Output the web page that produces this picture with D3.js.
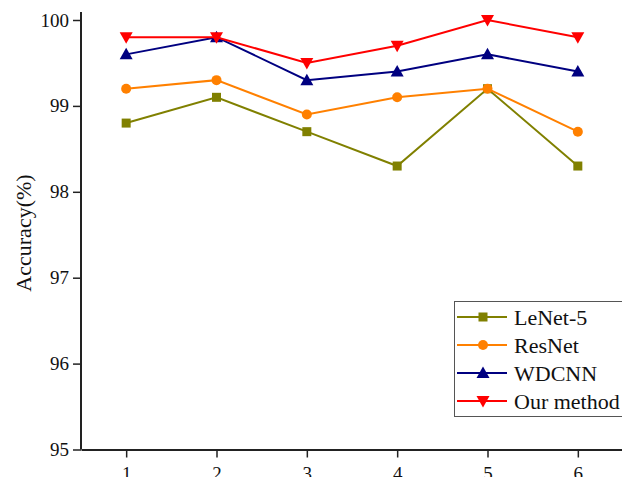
<!DOCTYPE html>
<html>
<head>
<meta charset="utf-8">
<script src="https://cdn.jsdelivr.net/npm/d3@7"></script>
<style>
  body { margin: 0; background: #fff; }
  svg { display: block; font-family: "Liberation Serif", "Times New Roman", serif; }
</style>
</head>
<body>
<div id="chart"></div>
<script>
const epochs = [1, 2, 3, 4, 5, 6];
const lenet = [98.8, 99.1, 98.7, 98.3, 99.2, 98.3];
const resnet = [99.2, 99.3, 98.9, 99.1, 99.2, 98.7];
const wdcnn = [99.6, 99.8, 99.3, 99.4, 99.6, 99.4];
const ourMethod = [99.8, 99.8, 99.5, 99.7, 100.0, 99.8];
const seriesNames = ["LeNet-5", "ResNet", "WDCNN", "Our method"];
const yTicks = [95, 96, 97, 98, 99, 100];

const series = [
    { name: seriesNames[0], values: lenet, color: "#808000", symbol: "square" },
    { name: seriesNames[1], values: resnet, color: "#ff8000", symbol: "circle" },
    { name: seriesNames[2], values: wdcnn, color: "#000080", symbol: "up" },
    { name: seriesNames[3], values: ourMethod, color: "#ff0000", symbol: "down" }
];

const width = 622, height = 477;
const margin = { top: 20, right: 0, bottom: 27, left: 81 };

const svg = d3.select("#chart").append("svg")
    .attr("width", width)
    .attr("height", height);

const xScale = d3.scaleLinear().domain([0.5, 6.5]).range([margin.left, 623]);
const yScale = d3.scaleLinear().domain([95, 100]).range([height - margin.bottom - 0.5, margin.top]);

// draws a marker centred on 0,0
function drawMarker(g, symbol, color) {
    if (symbol === "square") {
        g.append("rect").attr("x", -4.5).attr("y", -4.5).attr("width", 9).attr("height", 9).attr("fill", color);
    } else if (symbol === "circle") {
        g.append("circle").attr("r", 5).attr("fill", color);
    } else if (symbol === "up") {
        g.append("path").attr("d", "M0,-6.5L6.5,5L-6.5,5Z").attr("fill", color);
    } else {
        g.append("path").attr("d", "M0,6.5L6.5,-5L-6.5,-5Z").attr("fill", color);
    }
}

// axes
const xAxisG = svg.append("g")
    .attr("transform", "translate(0," + yScale(95) + ")")
    .call(d3.axisBottom(xScale).tickValues(epochs).tickFormat(d3.format("d"))
        .tickSize(8).tickSizeOuter(0).tickPadding(9));

const yAxisG = svg.append("g")
    .attr("transform", "translate(" + margin.left + ",0)")
    .call(d3.axisLeft(yScale).tickValues(yTicks).tickFormat(d3.format("d"))
        .tickSize(8).tickSizeOuter(0).tickPadding(4));

[xAxisG, yAxisG].forEach(g => {
    g.attr("font-family", null).attr("font-size", null);
    g.select(".domain").attr("stroke", "#222").attr("stroke-width", 2);
    g.selectAll(".tick line").attr("stroke", "#222").attr("stroke-width", 1.5);
    g.selectAll(".tick text").attr("fill", "#111").style("font-size", "19px");
});
yAxisG.select(".domain").attr("d", "M0," + yScale(95) + "V" + (margin.top - 8));

svg.append("text")
    .attr("transform", "rotate(-90)")
    .attr("x", -233)
    .attr("y", 31)
    .attr("fill", "#111")
    .style("font-size", "22px")
    .style("text-anchor", "middle")
    .text("Accuracy(%)");

// lines and markers
const line = d3.line()
    .x((d, i) => xScale(epochs[i]))
    .y(d => yScale(d));

series.forEach(s => {
    const g = svg.append("g").attr("class", "seriesG");
    g.append("path")
        .attr("d", line(s.values))
        .attr("fill", "none")
        .attr("stroke", s.color)
        .attr("stroke-width", 2);
    s.values.forEach((v, i) => {
        const m = g.append("g").attr("transform", "translate(" + xScale(epochs[i]) + "," + yScale(v) + ")");
        drawMarker(m, s.symbol, s.color);
    });
});

// legend
const legendG = svg.append("g").attr("transform", "translate(454,301)");
legendG.append("rect")
    .attr("x", 0.5).attr("y", 0.5)
    .attr("width", 200).attr("height", 115)
    .attr("fill", "#fff")
    .attr("stroke", "#555")
    .attr("stroke-width", 1);

series.forEach((s, i) => {
    const row = legendG.append("g").attr("transform", "translate(0," + (16 + i * 28) + ")");
    row.append("line")
        .attr("x1", 3).attr("x2", 53)
        .attr("stroke", s.color).attr("stroke-width", 2);
    const m = row.append("g").attr("transform", "translate(29,0)");
    drawMarker(m, s.symbol, s.color);
    row.append("text")
        .attr("x", 60)
        .attr("y", 8)
        .attr("fill", "#111")
        .style("font-size", "22px")
        .text(s.name);
});
</script>
</body>
</html>
